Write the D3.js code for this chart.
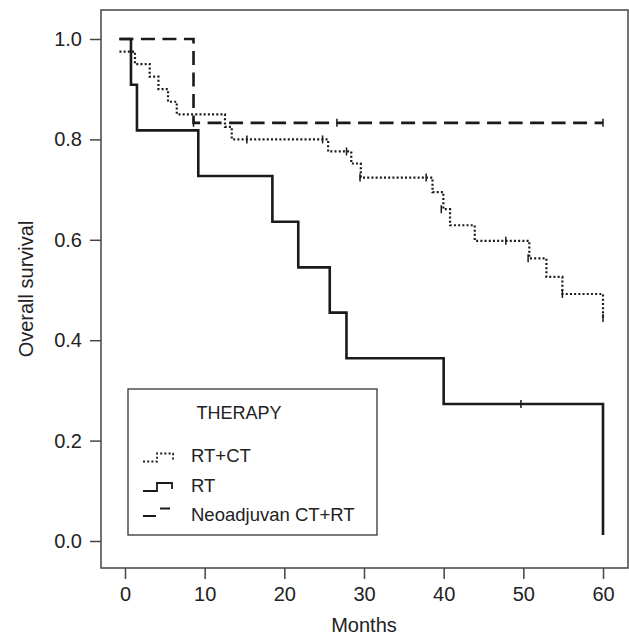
<!DOCTYPE html>
<html>
<head>
<meta charset="utf-8">
<script src="https://cdn.jsdelivr.net/npm/d3@7"></script>
<style>
  body { margin: 0; background: #fff; }
  svg text { font-family: "Liberation Sans", Arial, sans-serif; fill: #222; }
</style>
</head>
<body>
<svg width="629" height="635"></svg>
<script>
// Kaplan-Meier step data (months, survival level after the step)
const rtctTimes = [-0.7, 1.25, 3.1, 4.2, 5.4, 6.5, 12.55, 13.4, 25.5, 28.4, 29.6, 38.6, 39.96, 40.8, 43.9, 50.75, 52.9, 54.9, 60];
const rtctSurv  = [0.975, 0.95, 0.925, 0.90, 0.875, 0.85, 0.825, 0.80, 0.776, 0.752, 0.724, 0.695, 0.661, 0.629, 0.598, 0.563, 0.526, 0.492, 0.444];
const rtctCensor = [[15.3, 0.80], [24.8, 0.80], [27.8, 0.776], [29.5, 0.724], [37.8, 0.724], [39.7, 0.661], [47.8, 0.598], [50.6, 0.563], [54.9, 0.492], [60, 0.444]];

const rtTimes = [-0.7, 0.75, 1.5, 9.2, 18.5, 21.75, 25.7, 27.8, 40.0, 60];
const rtSurv  = [1, 0.909, 0.818, 0.727, 0.636, 0.545, 0.455, 0.364, 0.273, 0.012];
const rtCensor = [[49.7, 0.273]];

const neoTimes = [-0.7, 8.6, 60];
const neoSurv  = [1, 0.833, 0.833];
const neoCensor = [[8.6, 0.833], [26.6, 0.833], [60, 0.833]];

const xTicks = [0, 10, 20, 30, 40, 50, 60];
const yTicks = [0, 0.2, 0.4, 0.6, 0.8, 1.0];
const legendLabels = ["RT+CT", "RT", "Neoadjuvan CT+RT"];

const svg = d3.select("svg");
const box = { left: 101, top: 10, right: 628, bottom: 568 };

const x = d3.scaleLinear().domain([0, 60]).range([125, 603]);
const y = d3.scaleLinear().domain([0, 1]).range([541, 39]);

// plot frame
svg.append("rect")
    .attr("x", box.left).attr("y", box.top)
    .attr("width", box.right - box.left).attr("height", box.bottom - box.top)
    .attr("fill", "none").attr("stroke", "#444").attr("stroke-width", 1.5);

const xAxis = svg.append("g")
    .attr("transform", `translate(0,${box.bottom})`)
    .call(d3.axisBottom(x).tickValues(xTicks).tickSize(11).tickPadding(8));
const yAxis = svg.append("g")
    .attr("transform", `translate(${box.left},0)`)
    .call(d3.axisLeft(y).tickValues(yTicks).tickSize(11).tickPadding(8).tickFormat(d3.format(".1f")));

[xAxis, yAxis].forEach(g => {
    g.select(".domain").remove();
    g.selectAll("line").attr("stroke", "#444").attr("stroke-width", 1.5);
    g.selectAll("text").style("font-size", "20px").attr("fill", "#222");
});

svg.append("text")
    .attr("x", 364).attr("y", 632)
    .attr("text-anchor", "middle")
    .style("font-size", "20px")
    .text("Months");

svg.append("text")
    .attr("transform", "translate(33,289) rotate(-90)")
    .attr("text-anchor", "middle")
    .style("font-size", "20px")
    .text("Overall survival");

const line = d3.line()
    .x(d => x(d[0]))
    .y(d => y(d[1]))
    .curve(d3.curveStepAfter);

const series = [
    { times: rtctTimes, surv: rtctSurv, censor: rtctCensor, width: 2.2, dash: "2,2.2" },
    { times: rtTimes, surv: rtSurv, censor: rtCensor, width: 2.6, dash: null },
    { times: neoTimes, surv: neoSurv, censor: neoCensor, width: 2.6, dash: "14,7.5" }
];

series.forEach(s => {
    const pts = s.times.map((t, i) => [t, s.surv[i]]);
    svg.append("path")
        .attr("d", line(pts))
        .attr("fill", "none")
        .attr("stroke", "#1a1a1a")
        .attr("stroke-width", s.width)
        .attr("stroke-dasharray", s.dash);

    // censor marks
    svg.selectAll(null)
        .data(s.censor)
        .enter()
        .append("line")
        .attr("x1", d => x(d[0])).attr("x2", d => x(d[0]))
        .attr("y1", d => y(d[1]) - 4).attr("y2", d => y(d[1]) + 4)
        .attr("stroke", "#1a1a1a")
        .attr("stroke-width", 1.5);
});

// legend
const lg = svg.append("g");
lg.append("rect")
    .attr("x", 128).attr("y", 389).attr("width", 249).attr("height", 146)
    .attr("fill", "#fff").attr("stroke", "#333").attr("stroke-width", 1.3);
lg.append("text")
    .attr("x", 239).attr("y", 419)
    .attr("text-anchor", "middle")
    .style("font-size", "18px")
    .text("THERAPY");

const legendY = [462, 491.5, 520.5];
lg.selectAll(null)
    .data(legendLabels)
    .enter()
    .append("text")
    .attr("x", 191)
    .attr("y", (d, i) => legendY[i])
    .style("font-size", "18.5px")
    .text(d => d);

// legend keys
lg.append("path")
    .attr("d", "M143,461.5H157V453.5H173V460")
    .attr("fill", "none").attr("stroke", "#1a1a1a").attr("stroke-width", 1.8)
    .attr("stroke-dasharray", "2,2.2");
lg.append("path")
    .attr("d", "M143,491H157V483H172V489")
    .attr("fill", "none").attr("stroke", "#1a1a1a").attr("stroke-width", 1.8);
lg.append("path")
    .attr("d", "M143,516H156M160,508.5H170")
    .attr("fill", "none").attr("stroke", "#1a1a1a").attr("stroke-width", 1.8);
</script>
</body>
</html>
